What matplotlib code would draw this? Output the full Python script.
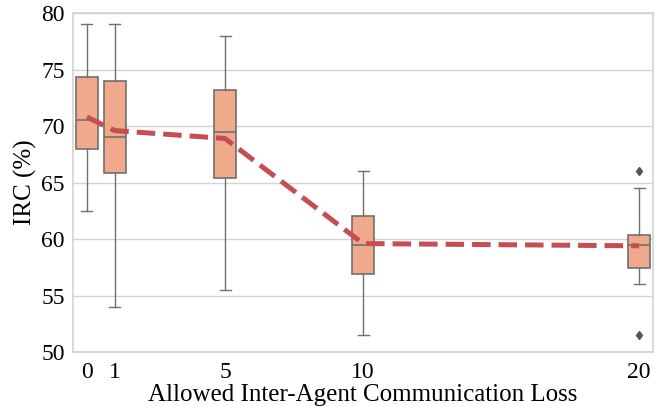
import matplotlib.pyplot as plt

# Allowed loss levels (x positions) and box statistics
loss = [0, 1, 5, 10, 20]
whislo = [62.5, 54.0, 55.5, 51.5, 56.0]
q1 = [68.0, 65.8, 65.4, 56.9, 57.4]
med = [70.5, 69.0, 69.5, 59.5, 59.5]
q3 = [74.3, 74.0, 73.2, 62.0, 60.35]
whishi = [79.0, 79.0, 78.0, 66.0, 64.5]
fliers = [[], [], [], [], [66.0, 51.5]]
means = [70.8, 69.6, 68.9, 59.6, 59.4]

plt.rcParams['font.family'] = ['Liberation Serif', 'DejaVu Serif']

fig = plt.figure(figsize=(6.65, 4.07), dpi=100)
ax = fig.add_axes([0.11, 0.135, 0.872, 0.833])

stats = []
for i in range(len(loss)):
    stats.append({'whislo': whislo[i], 'q1': q1[i], 'med': med[i], 'q3': q3[i],
                  'whishi': whishi[i], 'fliers': fliers[i]})

edge = '#707070'
ax.bxp(stats, positions=loss, widths=0.8, patch_artist=True, showfliers=True,
       boxprops=dict(facecolor='#f0a98a', edgecolor=edge, linewidth=1.2),
       medianprops=dict(color=edge, linewidth=1.2),
       whiskerprops=dict(color=edge, linewidth=1.0),
       capprops=dict(color=edge, linewidth=1.0),
       flierprops=dict(marker='d', markerfacecolor='#555555', markeredgecolor='#555555',
                       markersize=4.5),
       zorder=2)

# mean line
ax.plot(loss, means, color='#c44e52', linestyle='--', linewidth=3.6, zorder=3)

ax.set_xlim(-0.5, 20.5)
ax.set_ylim(50, 80)
ax.set_xticks(loss)
ax.set_xticklabels([str(v) for v in loss])
ax.set_yticks([50, 55, 60, 65, 70, 75, 80])

ax.grid(axis='y', color='#d3d3d3', linewidth=1, zorder=0)
ax.set_axisbelow(True)
for s in ax.spines.values():
    s.set_color('#d3d3d3')
    s.set_linewidth(1.2)
ax.tick_params(length=0, labelsize=17)
ax.tick_params(axis='x', pad=7)
ax.tick_params(axis='y', pad=6)

ax.set_xlabel('Allowed Inter-Agent Communication Loss', fontsize=18, labelpad=1)
ax.set_ylabel('IRC (%)', fontsize=18, labelpad=3)

fig.savefig('out.png', dpi=100)
